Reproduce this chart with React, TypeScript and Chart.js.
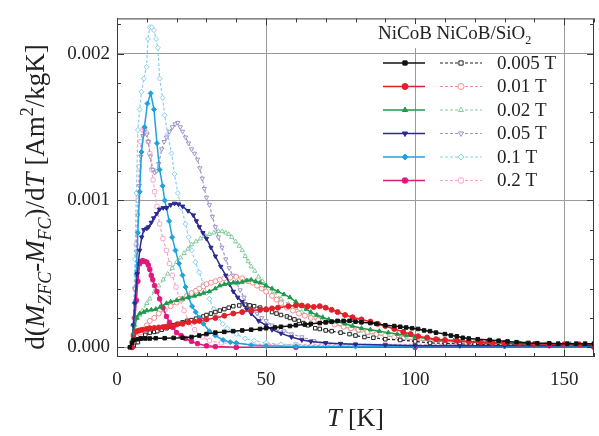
import React, { useEffect, useRef } from 'react';
import { Chart, registerables } from 'chart.js';
import { drawPoint } from 'chart.js/helpers';

Chart.register(...registerables);

// ---------- data ----------
// each point: [T in K, d(Mzfc-Mfc)/dT in units of 1e-4 Am^2/kgK]
const fieldLabels = ['0.005 T', '0.01 T', '0.02 T', '0.05 T', '0.1 T', '0.2 T'];
const xTickValues = [0, 50, 100, 150];
const yTickValues = [0, 0.001, 0.002];
const Y_UNIT = 1e-4;

// NiCoB (solid lines, filled symbols)
const NiCoB_0005: number[][] = [[4.3,0],[5,0.3],[5.6,0.5],[7,0.55],[8,0.6],[9.5,0.6],[11,0.6],[13,0.62],[16,0.62],[19,0.64],[22,0.65],[25,0.7],[27.6,0.8],[30,0.9],[33,1.0],[36,1.05],[39,1.1],[42,1.15],[45,1.2],[48,1.25],[50,1.3],[53,1.35],[55,1.4],[58,1.45],[60,1.5],[63,1.55],[65,1.6],[68,1.65],[70,1.7],[72,1.75],[74,1.8],[76,1.8],[78,1.8],[80,1.75],[82,1.7],[85,1.65],[87,1.6],[90,1.5],[93,1.45],[95,1.4],[97,1.35],[99,1.3],[101,1.25],[103,1.15],[105,1.1],[107,1.0],[110,0.9],[112,0.8],[114,0.75],[116,0.65],[118,0.6],[121,0.55],[125,0.5],[128,0.45],[131,0.4],[134,0.35],[138,0.3],[141,0.28],[145,0.27],[148,0.25],[151,0.25],[154,0.25],[157,0.25],[160,0.25]];
const NiCoB_001: number[][] = [[5,0],[5.6,0.5],[6.6,1.1],[7.5,1.15],[8.5,1.2],[10,1.25],[11,1.3],[12.5,1.32],[14,1.35],[15.5,1.38],[16.6,1.4],[18,1.45],[20,1.55],[22,1.6],[24,1.7],[26,1.75],[27.6,1.8],[30,1.9],[33,2.0],[36,2.15],[39,2.3],[42,2.4],[45,2.5],[48,2.55],[50,2.6],[52,2.65],[54,2.7],[57.5,2.8],[60,2.85],[62,2.85],[64,2.8],[66,2.75],[68,2.8],[70,2.7],[72,2.55],[74,2.4],[76.5,2.2],[79,2.05],[82,1.9],[85,1.75],[87.5,1.6],[90,1.45],[93,1.25],[96,1.05],[98.5,0.9],[101,0.75],[104,0.66],[107,0.55],[110,0.5],[114,0.45],[118,0.4],[122,0.35],[126,0.3],[130,0.3],[135,0.25],[140,0.22],[145,0.2],[150,0.2],[155,0.2],[160,0.2]];
const NiCoB_002: number[][] = [[5,0],[5.6,1.0],[6.6,2.0],[7.6,2.3],[9,2.4],[10,2.5],[11.5,2.55],[13,2.6],[14.5,2.75],[16.6,3.0],[18,3.1],[20,3.2],[22,3.3],[24,3.4],[26,3.5],[27.6,3.6],[29,3.7],[31,3.8],[33,4.0],[34.5,4.2],[36,4.3],[37.5,4.35],[39,4.4],[40.5,4.4],[42,4.45],[43.5,4.55],[45,4.6],[46.5,4.5],[48,4.4],[50,4.2],[52,4.0],[54,3.8],[56,3.6],[58,3.4],[60,3.1],[62,2.8],[63.5,2.6],[65,2.4],[67,2.2],[69,2.05],[71,1.9],[73.5,1.75],[76.5,1.6],[79,1.45],[82,1.3],[85,1.2],[88,1.1],[91,1.0],[94,0.9],[97,0.8],[100,0.7],[104,0.6],[108,0.5],[113,0.45],[118,0.4],[124,0.35],[130,0.3],[137,0.25],[145,0.2],[152,0.2],[160,0.2]];
const NiCoB_005: number[][] = [[5,0],[5.5,1.5],[6,3.0],[6.8,5.0],[7.6,6.6],[8.3,7.5],[9,8.0],[10,8.1],[10.6,8.2],[11.5,8.5],[12.3,8.8],[13.3,9.1],[14.3,9.4],[15.5,9.5],[16.6,9.5],[18,9.7],[19.3,9.8],[20.6,9.75],[22,9.6],[23.8,9.3],[25.6,9.0],[26.6,8.6],[27.6,8.2],[28.8,7.8],[30,7.4],[31.5,6.8],[33,6.2],[34.8,5.5],[36.5,4.9],[37.8,4.3],[39,3.8],[40.5,3.4],[42,3.1],[43.5,2.6],[45,2.3],[47.5,1.8],[50,1.5],[52,1.2],[55,0.95],[58.5,0.7],[62,0.5],[65,0.4],[70,0.3],[75,0.25],[80,0.2],[90,0.15],[100,0.1],[115,0.1],[130,0.1],[145,0.1],[160,0.1]];
const NiCoB_01: number[][] = [[5,0],[5.5,1.5],[6,3.0],[6.5,5.0],[7,7.8],[7.6,10.6],[8.2,13.3],[9.2,15.0],[10.2,16.6],[11.3,17.3],[12.4,16.2],[13.4,13.9],[14.3,12.1],[15.3,11.0],[16,10.0],[16.6,9.5],[17.5,8.6],[18.5,7.5],[19.6,6.6],[20.8,5.7],[22,4.9],[23,4.1],[24,3.4],[25.2,2.8],[26.4,2.4],[27.6,2.0],[29,1.6],[31,1.1],[33,0.8],[35.6,0.5],[38,0.35],[40,0.3],[45,0.15],[50,0.1],[60,0.05],[80,0.05],[100,0.05],[130,0.05],[160,0.05]];
const NiCoB_02: number[][] = [[5,0],[5.5,0.8],[6,2.0],[6.5,3.2],[7,4.5],[7.6,5.7],[8.1,5.85],[8.6,5.9],[9.3,5.85],[10,5.8],[10.5,5.6],[11,5.3],[11.5,4.9],[12,4.6],[12.6,4.2],[13.4,3.8],[14.3,3.3],[15.4,2.7],[16.6,2.1],[17.6,1.7],[18.8,1.35],[20,1.0],[21.5,0.8],[23,0.6],[25,0.4],[27,0.25],[30,0.1],[33,0.05],[40,0],[60,0],[100,0],[160,0]];

// NiCoB/SiO2 (dashed lines, open symbols)
const SiO2_0005: number[][] = [[5,0],[5.6,0.1],[7,0.35],[8,0.6],[9.5,0.85],[11,1.0],[12.5,1.05],[13.5,1.1],[15,1.2],[16.6,1.3],[18,1.4],[19,1.5],[20.5,1.6],[22,1.7],[23.5,1.8],[25,1.85],[26.5,1.95],[27.6,2.0],[29,2.1],[30,2.2],[31.5,2.3],[33,2.4],[34.5,2.5],[36,2.6],[37.5,2.7],[39,2.8],[41,2.85],[43,2.9],[44.5,2.85],[46,2.8],[48,2.7],[50,2.55],[52,2.4],[53.5,2.3],[55,2.2],[57,2.1],[58,2.0],[59.5,1.9],[61,1.8],[62.5,1.65],[64,1.5],[66.5,1.3],[68,1.25],[70,1.15],[72,1.1],[75,1.0],[78,0.9],[80,0.8],[83,0.7],[86,0.65],[90,0.55],[95,0.5],[100,0.4],[105,0.3],[110,0.27],[115,0.23],[120,0.2],[130,0.18],[140,0.15],[150,0.12],[160,0.1]];
const SiO2_001: number[][] = [[5,0],[5.8,0.3],[6.6,0.7],[8,1.0],[9,1.2],[10,1.5],[11,1.8],[12.5,2.0],[14,2.3],[16,2.55],[18,2.8],[20,3.05],[22,3.3],[23.5,3.5],[25,3.7],[26.5,3.85],[27.6,4.0],[29,4.15],[30,4.3],[31.5,4.4],[33,4.5],[34.5,4.6],[36,4.7],[38,4.75],[40,4.8],[42,4.7],[44,4.5],[45.5,4.4],[47,4.2],[48.5,4.0],[50,3.8],[52,3.5],[53.5,3.25],[55,3.0],[57,2.7],[59,2.5],[61,2.3],[63,2.15],[65,2.0],[67.5,1.85],[70,1.7],[73,1.55],[76,1.4],[78.5,1.3],[81,1.2],[84,1.05],[87,0.9],[90,0.8],[93,0.7],[96,0.6],[100,0.5],[105,0.45],[110,0.4],[115,0.35],[120,0.3],[128,0.25],[136,0.22],[144,0.2],[152,0.2],[160,0.2]];
const SiO2_002: number[][] = [[5,0.5],[5.5,1.0],[6,1.5],[6.8,2.0],[7.6,2.2],[8.5,2.5],[10,3.0],[11,3.3],[12.5,3.8],[14,4.2],[15.5,4.6],[17,5.0],[18.5,5.4],[20,5.8],[21.3,6.1],[22.5,6.4],[23.8,6.7],[25,7.0],[26.5,7.2],[28,7.4],[29.5,7.6],[31,7.7],[32.5,7.8],[34,7.9],[35.3,7.9],[36.5,7.8],[37.5,7.7],[38.5,7.5],[39.8,7.2],[41,6.9],[42,6.6],[43,6.2],[44,5.85],[45,5.5],[46.2,5.2],[47.5,4.8],[48.8,4.5],[50,4.2],[52.5,3.8],[55,3.3],[57.5,2.95],[60,2.65],[62,2.4],[65,2.15],[67.5,2.0],[70,1.8],[73,1.6],[76,1.4],[78.5,1.25],[81,1.1],[84,0.95],[87,0.85],[90,0.8],[95,0.65],[100,0.5],[105,0.45],[110,0.4],[115,0.35],[120,0.3],[128,0.25],[136,0.22],[144,0.2],[152,0.2],[160,0.2]];
const SiO2_005: number[][] = [[5,0],[5.5,1.5],[6,4.0],[6.5,6.5],[7,9.0],[7.5,11.0],[8,13.0],[8.7,14.4],[9.4,14.9],[10,14.5],[10.5,14.0],[11.2,13.0],[12,12.1],[12.6,11.9],[13.3,12.0],[14,12.5],[15,13.5],[15.8,14.0],[16.6,14.3],[17.6,14.7],[18.6,15.0],[19.5,15.2],[20.4,15.3],[21.2,15.0],[22,14.7],[23,14.3],[24,13.9],[25,13.5],[26,13.2],[27,12.8],[27.8,12.2],[28.6,11.5],[29.3,10.8],[30,10.2],[31,9.7],[32,8.9],[33,8.2],[34,7.5],[35.2,6.8],[36.5,6.0],[37.6,5.4],[38.8,4.9],[40,4.4],[41.3,3.9],[42.6,3.4],[44,2.9],[45.5,2.6],[47,2.3],[48.5,2.0],[50,1.8],[52,1.5],[54,1.25],[56,1.1],[58.5,0.9],[62,0.7],[66,0.45],[70,0.3],[75,0.25],[80,0.2],[90,0.15],[100,0.15],[110,0.15],[120,0.15],[130,0.15],[140,0.15],[150,0.15],[160,0.15]];
const SiO2_01: number[][] = [[5,0],[5.5,2.0],[6,6.0],[6.5,10.5],[7,14.8],[7.6,16.2],[8.2,17.4],[9,18.3],[9.9,19.1],[10.4,21.0],[11,21.8],[11.7,21.8],[12.4,21.6],[13.1,21.0],[13.7,20.4],[14.3,18.3],[15.3,17.0],[16,15.8],[17,14.5],[18.3,13.2],[19.3,11.8],[20.4,10.5],[21.6,9.5],[23,8.4],[24,7.5],[25,6.6],[26.3,5.8],[27.6,5.1],[29,4.3],[30,3.7],[31,3.3],[32.5,2.6],[34,2.0],[35.5,1.6],[37,1.3],[38.5,1.1],[40,0.9],[43,0.6],[46,0.45],[50,0.3],[55,0.2],[60,0.15],[70,0.1],[80,0.1],[100,0.1],[120,0.1],[140,0.1],[160,0.1]];
const SiO2_02: number[][] = [[5,0],[5.5,1.5],[6,4.0],[6.5,7.0],[7,10.0],[7.5,12.3],[8,14.0],[8.7,14.8],[9.3,14.8],[9.9,14.6],[10.5,14.0],[11,13.2],[11.6,12.1],[12.1,11.4],[12.6,10.6],[13.4,9.6],[14.3,8.4],[15.4,7.4],[16.6,6.6],[17.6,5.7],[18.6,4.9],[19.8,4.1],[21,3.3],[22.5,2.5],[24,1.8],[26,1.2],[28.6,0.7],[31,0.45],[35,0.3],[40,0.25],[50,0.2],[60,0.2],[70,0.2],[80,0.2],[90,0.2],[100,0.2],[110,0.2],[120,0.2],[130,0.2],[140,0.2],[150,0.2],[160,0.2]];

const solidSeries = [NiCoB_0005, NiCoB_001, NiCoB_002, NiCoB_005, NiCoB_01, NiCoB_02];
const dashSeries = [SiO2_0005, SiO2_001, SiO2_002, SiO2_005, SiO2_01, SiO2_02];

// ---------- styles ----------
const solidColors = ['#111111', '#e3202a', '#1f9a4c', '#2c2a8e', '#1ea3dc', '#e0187c'];
const dashColors = ['#222222', '#f28c8c', '#86cc9e', '#9c94cc', '#86cff0', '#f2a2cb'];
const pointStyles: any[] = ['rect', 'circle', 'triangle', 'triangle', 'rectRot', 'rectRounded'];
const pointRotations = [0, 0, 0, 180, 0, 0];
const FONT = "'Liberation Serif', 'Times New Roman', serif";

type Part = { t: string; it?: boolean; sub?: boolean; sup?: boolean };

function drawRich(ctx: CanvasRenderingContext2D, parts: Part[], size: number, cx: number, baseY: number) {
  const small = Math.round(size * 0.65);
  const fontOf = (p: Part) => `${p.it ? 'italic ' : ''}${p.sub || p.sup ? small : size}px ${FONT}`;
  let W = 0;
  const widths = parts.map((p) => {
    ctx.font = fontOf(p);
    const w = ctx.measureText(p.t).width;
    W += w;
    return w;
  });
  let x = cx - W / 2;
  ctx.textAlign = 'left';
  ctx.textBaseline = 'alphabetic';
  parts.forEach((p, i) => {
    ctx.font = fontOf(p);
    const dy = p.sub ? size * 0.25 : p.sup ? -size * 0.4 : 0;
    ctx.fillText(p.t, x, baseY + dy);
    x += widths[i];
  });
}

const decorPlugin = {
  id: 'decor',
  afterDatasetsDraw(chart: any) {
    const ctx: CanvasRenderingContext2D = chart.ctx;
    const { left, right, top, bottom } = chart.chartArea;
    const xs = chart.scales.x;
    const ys = chart.scales.y;
    ctx.save();
    // frame
    ctx.strokeStyle = '#3a3a3a';
    ctx.lineWidth = 1;
    ctx.strokeRect(left + 0.5, top + 0.5, right - left - 1, bottom - top - 1);
    // inward major/minor ticks on all four sides
    ctx.beginPath();
    for (let k = 0; k <= 16; k++) {
      const px = Math.round(xs.getPixelForValue(k * 10)) + 0.5;
      const len = k % 5 === 0 ? 7 : 4;
      ctx.moveTo(px, bottom);
      ctx.lineTo(px, bottom - len);
      ctx.moveTo(px, top);
      ctx.lineTo(px, top + len);
    }
    for (let k = 0; k <= 11; k++) {
      const py = Math.round(ys.getPixelForValue(k * 0.0002)) + 0.5;
      const len = k % 5 === 0 ? 7 : 4;
      ctx.moveTo(left, py);
      ctx.lineTo(left + len, py);
      ctx.moveTo(right, py);
      ctx.lineTo(right - len, py);
    }
    ctx.stroke();

    // legend
    ctx.fillStyle = '#ffffff';
    ctx.fillRect(377, 24, 161, 24);
    ctx.fillStyle = '#222';
    {
      const size = 19;
      let x = 378;
      ctx.textBaseline = 'alphabetic';
      ctx.textAlign = 'left';
      ctx.font = `${size}px ${FONT}`;
      ctx.fillText('NiCoB NiCoB/SiO', x, 39);
      x += ctx.measureText('NiCoB NiCoB/SiO').width;
      ctx.font = `${Math.round(size * 0.65)}px ${FONT}`;
      ctx.fillText('2', x, 44);
    }
    const rowY = [63, 86.5, 110, 133.5, 157, 180.5];
    fieldLabels.forEach((lab, i) => {
      const y = rowY[i];
      ctx.setLineDash([]);
      ctx.strokeStyle = solidColors[i];
      ctx.lineWidth = 1.5;
      ctx.beginPath();
      ctx.moveTo(383, y);
      ctx.lineTo(425, y);
      ctx.stroke();
      ctx.lineWidth = 1;
      ctx.fillStyle = solidColors[i];
      drawPoint(ctx, { pointStyle: pointStyles[i], rotation: pointRotations[i], radius: 3, borderWidth: 1 } as any, 405, y);
      ctx.setLineDash([3, 2]);
      ctx.strokeStyle = dashColors[i];
      ctx.lineWidth = 1.2;
      ctx.beginPath();
      ctx.moveTo(440, y);
      ctx.lineTo(482, y);
      ctx.stroke();
      ctx.setLineDash([]);
      ctx.lineWidth = 1;
      ctx.fillStyle = '#ffffff';
      drawPoint(ctx, { pointStyle: pointStyles[i], rotation: pointRotations[i], radius: 3, borderWidth: 1 } as any, 461, y);
      ctx.fillStyle = '#222';
      ctx.font = `19px ${FONT}`;
      ctx.textAlign = 'left';
      ctx.textBaseline = 'middle';
      ctx.fillText(lab, 497, y + 1);
    });

    // axis titles
    ctx.fillStyle = '#222';
    ctx.save();
    ctx.translate(44, 197);
    ctx.rotate(-Math.PI / 2);
    drawRich(
      ctx,
      [
        { t: 'd(' },
        { t: 'M', it: true },
        { t: 'ZFC', it: true, sub: true },
        { t: '-' },
        { t: 'M', it: true },
        { t: 'FC', it: true, sub: true },
        { t: ')/d' },
        { t: 'T', it: true },
        { t: ' [Am' },
        { t: '2', sup: true },
        { t: '/kgK]' },
      ],
      27,
      0,
      0
    );
    ctx.restore();
    drawRich(ctx, [{ t: 'T', it: true }, { t: ' [K]' }], 26, (left + right) / 2, 426);
    ctx.restore();
  },
};

export default function App() {
  const ref = useRef<HTMLCanvasElement | null>(null);
  useEffect(() => {
    if (!ref.current) return;
    document.body.style.margin = '0';
    Chart.defaults.font.family = FONT;
    const datasets: any[] = [];
    solidSeries.forEach((s, i) => {
      datasets.push({
        label: 'NiCoB ' + fieldLabels[i],
        data: s.map((p) => ({ x: p[0], y: p[1] * Y_UNIT })),
        borderColor: solidColors[i],
        backgroundColor: solidColors[i],
        borderWidth: 1.5,
        pointStyle: pointStyles[i],
        rotation: pointRotations[i],
        pointRadius: 2.5,
        pointBorderWidth: 1,
        showLine: true,
        tension: 0,
      });
    });
    dashSeries.forEach((s, i) => {
      datasets.push({
        label: 'NiCoB/SiO2 ' + fieldLabels[i],
        data: s.map((p) => ({ x: p[0], y: p[1] * Y_UNIT })),
        borderColor: dashColors[i],
        backgroundColor: '#ffffff',
        borderWidth: 1.2,
        borderDash: [3, 2],
        pointStyle: pointStyles[i],
        rotation: pointRotations[i],
        pointRadius: 2.5,
        pointBorderWidth: 1,
        showLine: true,
        tension: 0,
      });
    });
    const chart = new Chart(ref.current, {
      type: 'scatter',
      data: { datasets },
      options: {
        animation: false,
        responsive: false,
        devicePixelRatio: 1,
        layout: { padding: { top: 7, right: 1, left: 0, bottom: 0 } },
        plugins: { legend: { display: false }, tooltip: { enabled: false } },
        scales: {
          x: {
            type: 'linear',
            min: 0,
            max: 160,
            afterBuildTicks: (s: any) => {
              s.ticks = xTickValues.map((v) => ({ value: v }));
            },
            afterFit: (s: any) => {
              s.height = 79;
            },
            ticks: { font: { size: 19, family: FONT }, color: '#222', padding: 12, maxRotation: 0, autoSkip: false },
            grid: { color: '#9a9a9a', lineWidth: 1, drawTicks: false },
            border: { display: false },
          },
          y: {
            type: 'linear',
            min: -0.000066,
            max: 0.00224,
            afterBuildTicks: (s: any) => {
              s.ticks = yTickValues.map((v) => ({ value: v }));
            },
            afterFit: (s: any) => {
              s.width = 117;
            },
            ticks: {
              font: { size: 19, family: FONT },
              color: '#222',
              padding: 7,
              callback: (v: any) => Number(v).toFixed(3),
            },
            grid: { color: '#9a9a9a', lineWidth: 1, drawTicks: false },
            border: { display: false },
          },
        },
      },
      plugins: [decorPlugin],
    });
    return () => chart.destroy();
  }, []);
  return (
    <div style={{ position: 'fixed', left: 0, top: 0, width: 599, height: 436, background: '#fff' }}>
      <canvas ref={ref} width={599} height={436} style={{ display: 'block', width: 599, height: 436 }} />
    </div>
  );
}
